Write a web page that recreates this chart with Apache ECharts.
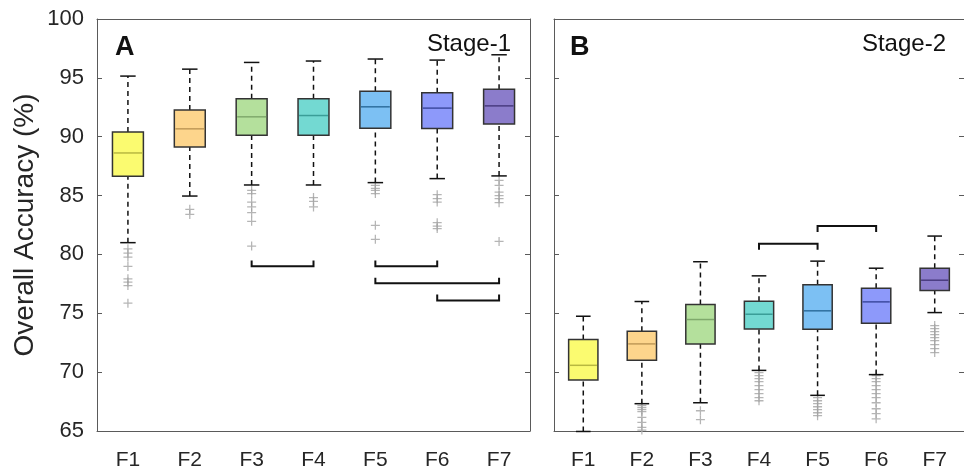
<!DOCTYPE html>
<html>
<head>
<meta charset="utf-8">
<script src="https://cdn.jsdelivr.net/npm/echarts@6/dist/echarts.min.js"></script>
<style>
  html, body { margin: 0; padding: 0; background: #fff; }
  #main { width: 964px; height: 471px; }
</style>
</head>
<body>
<div id="main"></div>
<script>
// categories (same for both stages)
var categories = ['F1', 'F2', 'F3', 'F4', 'F5', 'F6', 'F7'];

// box stats per feature set: [lower whisker, q1, median, q3, upper whisker]
var stage1Box = [
  [81.0, 86.64, 88.62, 90.41, 95.15],
  [84.96, 89.13, 90.67, 92.26, 95.74],
  [85.90, 90.13, 91.69, 93.22, 96.31],
  [85.90, 90.13, 91.80, 93.22, 96.43],
  [86.10, 90.72, 92.54, 93.87, 96.60],
  [86.44, 90.70, 92.43, 93.73, 96.51],
  [86.67, 91.09, 92.62, 94.04, 96.96]
];
var stage2Box = [
  [64.96, 69.34, 70.58, 72.77, 74.75],
  [67.32, 71.00, 72.40, 73.47, 76.00],
  [67.40, 72.40, 74.47, 75.74, 79.38],
  [70.15, 73.67, 74.92, 76.03, 78.18],
  [68.03, 73.64, 75.21, 77.42, 79.43],
  [69.79, 74.15, 75.97, 77.13, 78.83],
  [75.06, 76.94, 77.81, 78.83, 81.56]
];

// outliers (+)
var stage1Outliers = [
  [80.48, 80.11, 79.77, 78.98, 77.93, 77.65, 77.36, 75.86],
  [83.83, 83.40],
  [85.45, 85.17, 84.45, 84.03, 83.55, 82.81, 80.71],
  [84.83, 84.51, 84.03],
  [85.87, 85.62, 85.45, 85.17, 82.47, 81.28],
  [85.08, 84.74, 84.45, 82.7, 82.4, 82.2],
  [86.3, 85.87, 85.3, 85.0, 84.74, 84.4, 81.1]
];
var stage2Outliers = [
  [],
  [67.15, 66.98, 66.81, 66.64, 66.15, 65.73, 65.3, 65.08],
  [66.72, 65.96],
  [69.96, 69.70, 69.45, 69.19, 68.85, 68.51, 68.17, 67.83, 67.57],
  [67.83, 67.57, 67.32, 67.06, 66.81, 66.55, 66.30],
  [69.70, 69.45, 69.19, 68.85, 68.51, 68.17, 67.83, 67.40, 66.89, 66.47, 66.04],
  [73.96, 73.70, 73.45, 73.19, 72.94, 72.68, 72.34, 72.0, 71.66]
];

// brackets: [from category, to category, bar level, tick end level]
var stage1Brackets = [[2, 3, 79.0, 79.49], [4, 5, 79.0, 79.49], [4, 6, 77.56, 78.02], [5, 6, 76.09, 76.6]];
var stage2Brackets = [[3, 4, 80.91, 80.4], [4, 5, 82.41, 81.9]];

var fillColors = ['#fbfb70', '#fdd58c', '#b4e09c', '#73d9d2', '#7cc0f3', '#8d99fa', '#8b7ccb'];
var medianColors = ['#b8b840', '#c09a58', '#7fa96c', '#3a9e98', '#2f6f9e', '#3d4aa0', '#4a3c80'];

function renderBox(params, api) {
  var i = api.value(0);
  var band = api.size([1, 0])[0];
  var x = api.coord([i, 0])[0];
  function y(k) { return api.coord([i, api.value(k)])[1]; }
  var yLow = y(1), yQ1 = y(2), yMed = y(3), yQ3 = y(4), yHigh = y(5);
  var bw = band * 0.5, cw = band * 0.25;
  var dash = { stroke: '#111', lineWidth: 1.5, lineDash: [5, 4] };
  var solid = { stroke: '#111', lineWidth: 1.5 };
  return {
    type: 'group',
    children: [
      { type: 'line', shape: { x1: x, y1: yLow, x2: x, y2: yQ1 }, style: dash },
      { type: 'line', shape: { x1: x, y1: yQ3, x2: x, y2: yHigh }, style: dash },
      { type: 'line', shape: { x1: x - cw / 2, y1: yLow, x2: x + cw / 2, y2: yLow }, style: solid },
      { type: 'line', shape: { x1: x - cw / 2, y1: yHigh, x2: x + cw / 2, y2: yHigh }, style: solid },
      { type: 'rect', shape: { x: x - bw / 2, y: yQ3, width: bw, height: yQ1 - yQ3 },
        style: { fill: fillColors[i], stroke: '#333', lineWidth: 1.5 } },
      { type: 'line', shape: { x1: x - bw / 2 + 1, y1: yMed, x2: x + bw / 2 - 1, y2: yMed },
        style: { stroke: medianColors[i], lineWidth: 1.5 } }
    ]
  };
}

function renderBracket(params, api) {
  var a = api.coord([api.value(0), api.value(2)]);
  var b = api.coord([api.value(1), api.value(2)]);
  var t = api.coord([api.value(0), api.value(3)])[1];
  return {
    type: 'polyline',
    shape: { points: [[a[0], t], a, b, [b[0], t]] },
    style: { stroke: '#111', lineWidth: 2, fill: null }
  };
}

function boxData(stats) {
  return stats.map(function (s, i) { return [i].concat(s); });
}
function outlierData(list) {
  var out = [];
  list.forEach(function (arr, i) { arr.forEach(function (v) { out.push([i, v]); }); });
  return out;
}

var plus = 'path://M0,4.3H10V5.7H0Z M4.3,0H5.7V10H4.3Z';
var axisCol = '#5a5a5a';
var font = 'Liberation Sans, Arial, sans-serif';

function xAxes(gridIndex) {
  return [{
    type: 'category', gridIndex: gridIndex, data: categories, position: 'bottom',
    axisLine: { lineStyle: { color: axisCol, width: 1 } },
    axisTick: { inside: true, length: 5, alignWithLabel: true, lineStyle: { color: axisCol } },
    axisLabel: { margin: 19, color: '#262626', fontSize: 21, fontFamily: font },
    splitLine: { show: false }
  }, {
    type: 'category', gridIndex: gridIndex, data: categories, position: 'top',
    axisLine: { lineStyle: { color: axisCol, width: 1 } },
    axisTick: { inside: true, length: 5, alignWithLabel: true, lineStyle: { color: axisCol } },
    axisLabel: { show: false },
    splitLine: { show: false }
  }];
}
function yAxes(gridIndex, showLabels) {
  return [{
    type: 'value', gridIndex: gridIndex, min: 65, max: 100, interval: 5, position: 'left',
    name: showLabels ? 'Overall Accuracy (%)' : '',
    nameLocation: 'middle', nameGap: 58,
    nameTextStyle: { color: '#262626', fontSize: 28, fontFamily: font },
    axisLine: { show: true, lineStyle: { color: axisCol, width: 1 } },
    axisTick: { show: true, inside: true, length: 5, lineStyle: { color: axisCol } },
    axisLabel: { show: showLabels, margin: 13, color: '#262626', fontSize: 22, fontFamily: font },
    splitLine: { show: false }
  }, {
    type: 'value', gridIndex: gridIndex, min: 65, max: 100, interval: 5, position: 'right',
    axisLine: { show: true, lineStyle: { color: axisCol, width: 1 } },
    axisTick: { show: true, inside: true, length: 5, lineStyle: { color: axisCol } },
    axisLabel: { show: false },
    splitLine: { show: false }
  }];
}

var chart = echarts.init(document.getElementById('main'), null, { renderer: 'canvas' });
chart.setOption({
  animation: false,
  backgroundColor: '#fff',
  title: [
    { text: 'A', left: 110, top: 29, textStyle: { fontSize: 27, fontWeight: 'bold', color: '#111', fontFamily: font } },
    { text: 'Stage-1', right: 448, top: 27, textStyle: { fontSize: 24, fontWeight: 'normal', color: '#111', fontFamily: font } },
    { text: 'B', left: 565, top: 29, textStyle: { fontSize: 27, fontWeight: 'bold', color: '#111', fontFamily: font } },
    { text: 'Stage-2', right: 13, top: 27, textStyle: { fontSize: 24, fontWeight: 'normal', color: '#111', fontFamily: font } }
  ],
  grid: [
    { left: 97, top: 19, width: 433, height: 412 },
    { left: 554, top: 19, width: 415, height: 412 }
  ],
  xAxis: xAxes(0).concat(xAxes(1)),
  yAxis: yAxes(0, true).concat(yAxes(1, false)),
  series: [
    { type: 'scatter', xAxisIndex: 0, yAxisIndex: 0, data: outlierData(stage1Outliers),
      symbol: plus, symbolSize: 9, itemStyle: { color: '#a3a3a3' }, z: 1 },
    { type: 'custom', xAxisIndex: 0, yAxisIndex: 0, data: boxData(stage1Box), renderItem: renderBox, z: 2 },
    { type: 'custom', xAxisIndex: 0, yAxisIndex: 0, data: stage1Brackets, renderItem: renderBracket, z: 3 },
    { type: 'scatter', xAxisIndex: 2, yAxisIndex: 2, data: outlierData(stage2Outliers),
      symbol: plus, symbolSize: 9, itemStyle: { color: '#a3a3a3' }, z: 1 },
    { type: 'custom', xAxisIndex: 2, yAxisIndex: 2, data: boxData(stage2Box), renderItem: renderBox, z: 2 },
    { type: 'custom', xAxisIndex: 2, yAxisIndex: 2, data: stage2Brackets, renderItem: renderBracket, z: 3 }
  ]
});
</script>
</body>
</html>
